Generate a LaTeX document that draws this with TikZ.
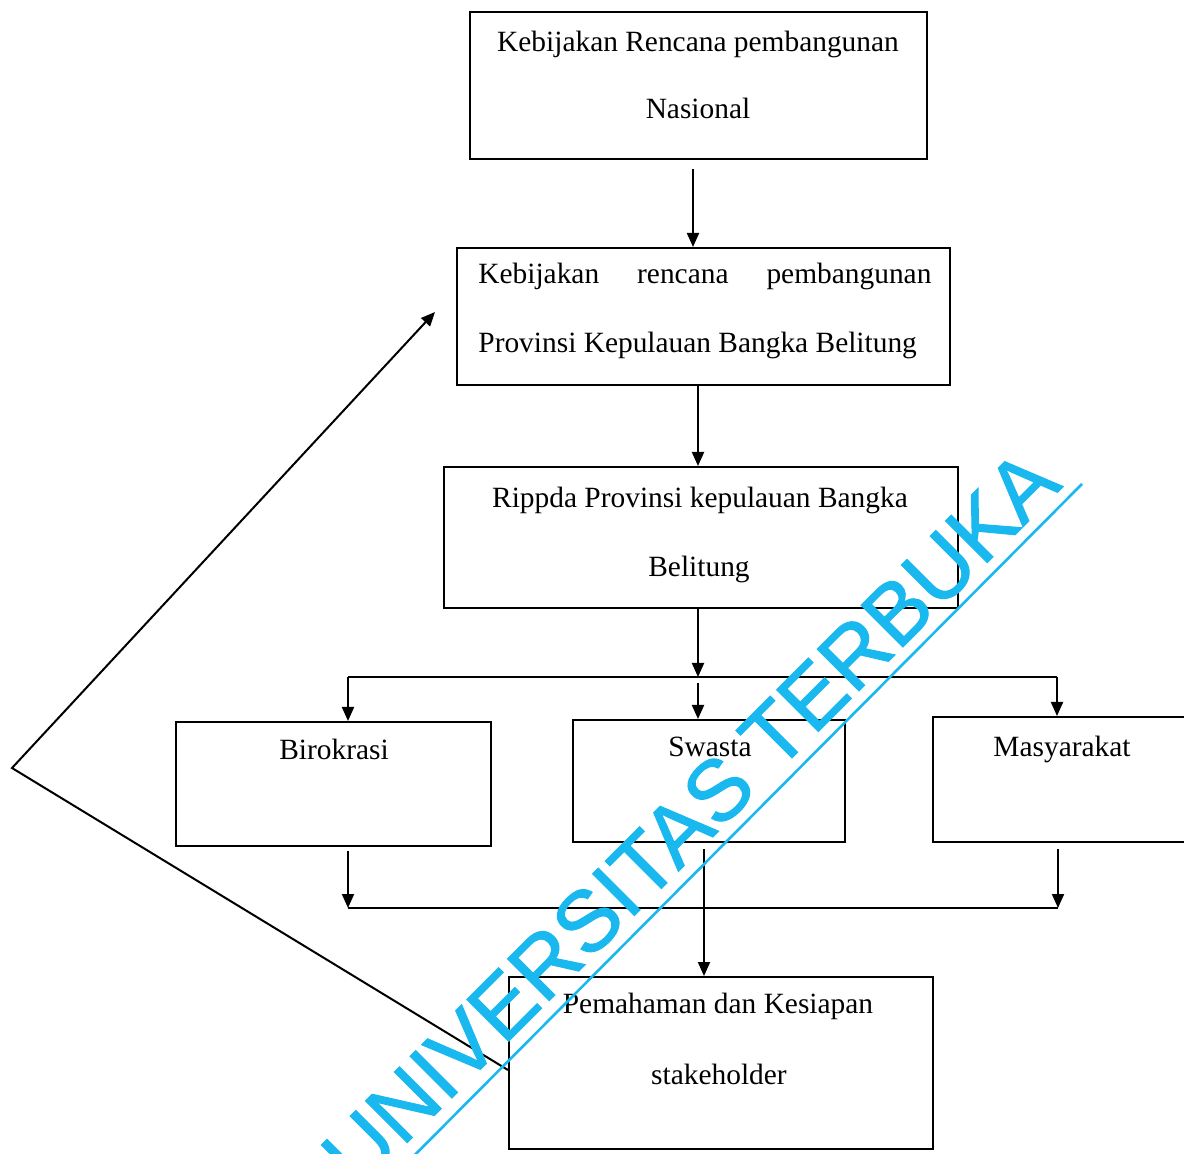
\documentclass[tikz,border=0pt]{standalone}
\usepackage{fontspec}
\setmainfont{Liberation Serif}
\newfontfamily\wmfont[FakeBold=1.2]{Liberation Sans}
\usetikzlibrary{arrows.meta}
\definecolor{wmcyan}{RGB}{25,185,240}
\begin{document}
\begin{tikzpicture}[x=0.5pt,y=-0.5pt,
  box/.style={draw, line width=1pt, rectangle, inner sep=0pt},
  lbl/.style={font=\fontsize{14.7}{17}\selectfont, inner sep=0pt, anchor=base},
  arr/.style={line width=1pt, -{Triangle[length=7pt,width=6pt]}},
  ln/.style={line width=1pt}]
\clip (0,0) rectangle (1184,1154);
\useasboundingbox (0,0) rectangle (1184,1154);
\fill[white] (0,0) rectangle (1184,1154);
% boxes
\node[box, minimum width=228.5pt, minimum height=73.5pt] (b1) at (698.5,85.5) {};
\node[box, minimum width=246.5pt, minimum height=68.5pt] (b2) at (703.5,316.5) {};
\node[box, minimum width=257pt, minimum height=70.5pt] (b3) at (701,537.5) {};
\node[box, minimum width=157.5pt, minimum height=62pt] (bir) at (333.5,784) {};
\node[box, minimum width=136pt, minimum height=61pt] (sw) at (709,781) {};
\node[box, minimum width=131pt, minimum height=62.5pt] (mas) at (1064,779.5) {};
\node[box, minimum width=212pt, minimum height=86pt] (pem) at (721,1063) {};
% texts
\node[lbl] (t1a) at (698,52) {Kebijakan Rencana pembangunan};
\node[lbl] (t1b) at (698,119) {Nasional};
\node[lbl, text width=226.5pt, anchor=base west] (t2a) at (478,284) {Kebijakan\hfill rencana\hfill pembangunan};
\node[lbl, anchor=base west] (t2b) at (478,353) {Provinsi Kepulauan Bangka Belitung};
\node[lbl] (t3a) at (700,508) {Rippda Provinsi kepulauan Bangka};
\node[lbl] (t3b) at (699,577) {Belitung};
\node[lbl] (tbir) at (334,760) {Birokrasi};
\node[lbl] (tsw) at (710,757) {Swasta};
\node[lbl] (tmas) at (1062,756) {Masyarakat};
\node[lbl] (tpa) at (718,1013) {Pemahaman dan Kesiapan};
\node[lbl] (tpb) at (719,1084) {stakeholder};
% junction coordinates
\coordinate (topl) at (348,677);
\coordinate (topm) at (698,677);
\coordinate (topr) at (1057,677);
\coordinate (botl) at (348,908);
\coordinate (botr) at (1058,908);
\coordinate (apex) at (12,768);
\coordinate (fbtip) at (435,312);
% connectors
\draw[arr, shorten <=4.5pt] (693,0 |- b1.south) -- (693,0 |- b2.north);
\draw[arr] (698,0 |- b2.south) -- (698,0 |- b3.north);
\draw[arr] (698,0 |- b3.south) -- (topm);
\draw[ln] (topl) -- (topr);
\draw[arr] (topl) -- (topl |- bir.north);
\draw[arr, shorten <=3pt] (topm) -- (topm |- sw.north);
\draw[arr] (topr) -- (topr |- mas.north);
\draw[arr, shorten <=2pt] (botl |- bir.south) -- (botl);
\draw[arr, shorten <=3pt] (botr |- mas.south) -- (botr);
\draw[ln] (botl) -- (botr);
\draw[arr, shorten <=3pt] (704,0 |- sw.south) -- (704,0 |- pem.north);
\draw[arr] (pem.west |- 0,1070) -- (apex) -- (fbtip);
% watermark
\node[text=wmcyan, font=\wmfont\fontsize{43}{43}\selectfont, rotate=45, inner sep=0pt, anchor=base] (wm) at (711,839) {UNIVERSITAS TERBUKA};
\coordinate (ul1) at (384,1186);
\coordinate (ul2) at (1082,484);
\draw[wmcyan, line width=1.3pt] (ul1) -- (ul2);
\end{tikzpicture}
\end{document}
